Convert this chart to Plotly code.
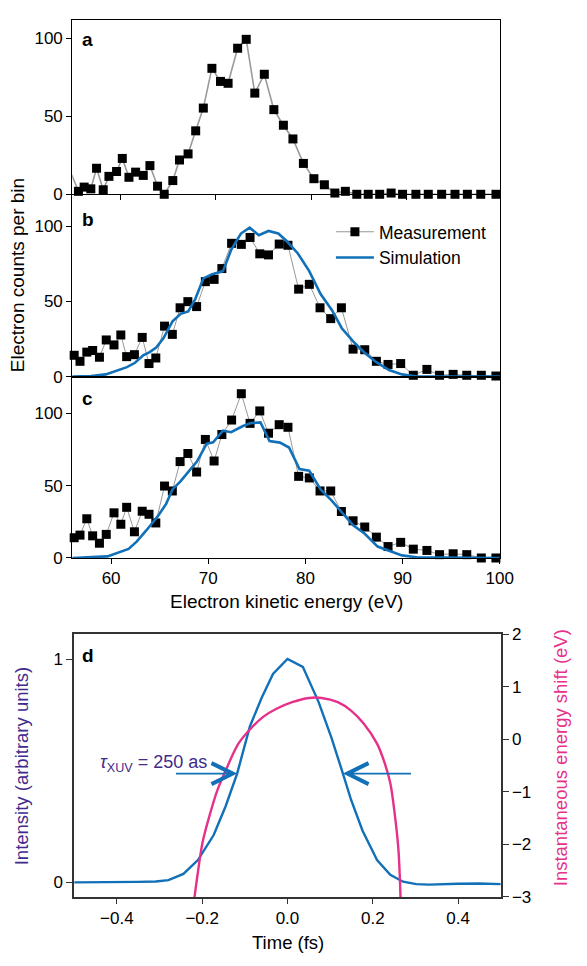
import plotly.graph_objects as go

W, H = 587, 966
FONT = "Liberation Sans, Arial, Helvetica, sans-serif"
BLUE = "#1170b8"
PINK = "#e5318a"
PURPLE = "#3f2b8c"

# ---------------- Panel a: measurement ----------------
a_energy = [54.9, 55.6, 56.2, 56.9, 57.5, 58.2, 58.8, 59.6, 60.2, 60.9, 61.6, 62.4, 63.1, 63.9,
            64.6, 65.5, 66.2, 67.1, 67.9, 68.7, 69.6, 70.5, 71.3, 72.3, 73.2, 74.1, 75.1,
            76.1, 77.1, 78.1, 79.2, 80.3, 81.4, 82.5, 83.6, 84.8, 86.0, 87.2, 88.4, 89.6,
            91.0, 92.3, 93.7, 95.1, 96.4, 97.8, 99.4]
a_counts = [12.5, 1.9, 4.6, 3.5, 16.7, 2.9, 11.5, 14.6, 23, 10.9, 14.2, 12.1, 18.4, 5.2,
            0, 8.8, 22, 25.9, 40.7, 55.3, 80.8, 72.4, 71.2, 93.7, 99.4, 64.9, 77,
            54.3, 44.3, 35.5, 19.8, 10, 6.1, 0.8, 1.9, 0, 0, 0, 0.8, 0,
            0, 0, 0, 0, 0, 0, 0]

# ---------------- Panel b ----------------
b_energy = [56.2, 56.8, 57.5, 58.1, 58.8, 59.5, 60.3, 61.0, 61.6, 62.4, 63.2, 63.9, 64.6,
            65.5, 66.3, 67.1, 67.9, 68.8, 69.7, 70.6, 71.4, 72.4, 73.4, 74.3, 75.3, 76.2,
            77.3, 78.2, 79.3, 80.4, 81.5, 82.6, 83.7, 84.9, 86.1, 87.3, 88.5, 89.8, 91.1,
            92.5, 93.8, 95.2, 96.6, 98.1, 99.6]
b_counts = [14.2, 10.2, 16.3, 17.4, 12.9, 24.4, 21.1, 27.7, 13.3, 14.6, 26.1, 8.7, 12.4,
            33.6, 28.1, 45.8, 49.9, 46.6, 63.2, 64.7, 71.9, 88.7, 88, 92.6, 81.7, 81,
            88.2, 87.4, 58.2, 61.4, 45.8, 38.6, 45.8, 18.3, 17.9, 10.2, 8.1, 8.7, 0.9,
            4.8, 0.9, 1.5, 0.9, 0.9, 0.4]
b_sim_energy = [56.0, 57.94, 59.45, 60.62, 61.63, 62.46, 63.3, 63.97, 64.64, 65.38, 66.32,
                67.16, 67.93, 68.66, 69.5, 70.34, 71.51, 72.35, 73.36, 74.26, 75.2, 76.2,
                77.2, 78.04, 79.2, 80.39, 81.56, 82.73, 83.74, 84.91, 86.08, 87.26, 88.6,
                89.94, 91.45, 99.6, 100.0]
b_sim_counts = [0, 0.4, 1.5, 4.1, 6.3, 9.2, 14.2, 16.3, 19.4, 25.5, 36.8,
                41.8, 43.4, 51.6, 65.4, 68, 70.2, 84.3, 95.2, 99.1, 94.1, 96.9,
                95.2, 90.4, 82.1, 70.2, 55, 44.2, 32.2, 23.5, 15.9, 9.8, 4.4,
                1.5, 0, 0, 0]

# ---------------- Panel c ----------------
c_energy = b_energy
c_counts = [14, 15.8, 27.1, 15.3, 10.2, 16.3, 31.2, 23.3, 35, 18.1, 32.3, 30.2, 24.2,
            49.7, 46.3, 66.6, 72.2, 59.4, 81.9, 67, 85.3, 95.3, 113.5, 93, 101.6, 86.2,
            92.1, 90.3, 56.4, 55.3, 46.3, 46.3, 32.1, 25.7, 21.4, 14.4, 7.9, 10.8, 6.1,
            5.2, 2.3, 2.9, 2.3, 0, 0]
c_sim_energy = [56.0, 59.62, 61.8, 62.63, 63.64, 64.81, 65.65, 66.32, 67.16, 67.99, 68.83,
                69.84, 70.5, 71.51, 72.35, 73.52, 74.36, 75.37, 76.3, 77.38, 78.31, 79.39,
                80.39, 81.56, 82.73, 83.74, 84.91, 86.08, 87.43, 88.6, 89.94, 91.45, 99.6, 100.0]
c_sim_counts = [0, 1.1, 6.3, 11.3, 19.2, 28.9, 37.2, 47.4, 53.1, 59.8, 66.6,
                79, 79.9, 88, 86.9, 91, 93.2, 93.7, 80.8, 79.7, 76.3, 61.4,
                60.3, 47.4, 39.5, 31.6, 22.6, 16.9, 7.9, 5, 1.8, 0.5, 0, 0]

# ---------------- Panel d ----------------
d_time = [-0.5, -0.45, -0.4, -0.35, -0.309, -0.279, -0.244, -0.210, -0.173, -0.145, -0.118,
          -0.088, -0.061, -0.034, 0.0, 0.036, 0.073, 0.103, 0.130, 0.149, 0.176, 0.210,
          0.241, 0.271, 0.302, 0.332, 0.4, 0.45, 0.5]
d_intensity = [0.0, 0.0, 0.001, 0.002, 0.004, 0.01, 0.038, 0.1, 0.212, 0.341, 0.487,
               0.699, 0.824, 0.933, 1.0, 0.965, 0.807, 0.648, 0.487, 0.37, 0.231, 0.1,
               0.034, 0.003, -0.008, -0.01, -0.006, -0.005, -0.008]
d_shift_time = [-0.218, -0.210, -0.199, -0.183, -0.164, -0.141, -0.115, -0.088, -0.057,
                -0.027, 0.011, 0.050, 0.080, 0.118, 0.149, 0.179, 0.210, 0.229, 0.241,
                0.252, 0.260, 0.265]
d_shift = [-3.01, -2.53, -1.96, -1.46, -0.96, -0.52, -0.08, 0.19, 0.43,
           0.58, 0.71, 0.79, 0.79, 0.71, 0.55, 0.30, -0.08, -0.48, -0.83,
           -1.46, -2.09, -3.01]

e_ticks = [60, 70, 80, 90, 100]
count_ticks = [0, 50, 100]
t_ticks = [-0.4, -0.2, 0.0, 0.2, 0.4]
shift_ticks = [-3, -2, -1, 0, 1, 2]

fig = go.Figure()

MK = dict(symbol="square", size=9, color="black")

# panel a
fig.add_trace(go.Scatter(x=a_energy, y=a_counts, mode="lines", xaxis="x", yaxis="y",
                         line=dict(color="#9a9a9a", width=1.6), showlegend=False, hoverinfo="skip"))
fig.add_trace(go.Scatter(x=a_energy[1:], y=a_counts[1:], mode="markers", xaxis="x", yaxis="y",
                         marker=MK, cliponaxis=False, showlegend=False))
# panel b
fig.add_trace(go.Scatter(x=b_energy, y=b_counts, mode="lines+markers", xaxis="x2", yaxis="y2",
                         line=dict(color="#8c8c8c", width=0.9), marker=MK, cliponaxis=False,
                         name="Measurement"))
fig.add_trace(go.Scatter(x=b_sim_energy, y=b_sim_counts, mode="lines", xaxis="x2", yaxis="y2",
                         line=dict(color=BLUE, width=2.6), name="Simulation"))
# panel c
fig.add_trace(go.Scatter(x=c_energy, y=c_counts, mode="lines+markers", xaxis="x3", yaxis="y3",
                         line=dict(color="#8c8c8c", width=0.9), marker=MK, cliponaxis=False,
                         showlegend=False))
fig.add_trace(go.Scatter(x=c_sim_energy, y=c_sim_counts, mode="lines", xaxis="x3", yaxis="y3",
                         line=dict(color=BLUE, width=2.6), showlegend=False))
# panel d
fig.add_trace(go.Scatter(x=d_time, y=d_intensity, mode="lines", xaxis="x4", yaxis="y4",
                         line=dict(color=BLUE, width=2.4), showlegend=False))
fig.add_trace(go.Scatter(x=d_shift_time, y=d_shift, mode="lines", xaxis="x4", yaxis="y5",
                         line=dict(color=PINK, width=2.4, shape="spline", smoothing=1.0),
                         showlegend=False))

def px_x(p):
    return p / W

def px_y(p):
    return 1 - p / H

xdom = [px_x(74), px_x(512)]
xdom_d = [px_x(76), px_x(513)]
TICKFONT = dict(family=FONT, size=17, color="black")

common_x = dict(showline=True, linecolor="black", linewidth=1, mirror=True, showgrid=False,
                zeroline=False, ticks="outside", ticklen=5, tickcolor="black", tickfont=TICKFONT)
common_y = dict(showline=True, linecolor="black", linewidth=1, mirror=True, showgrid=False,
                zeroline=False, ticks="outside", ticklen=5, tickcolor="black", tickfont=TICKFONT,
                tickvals=count_ticks)

fig.update_layout(
    width=W, height=H, margin=dict(l=0, r=0, t=0, b=0),
    paper_bgcolor="white", plot_bgcolor="white",
    font=dict(family=FONT, size=17, color="black"),
    xaxis=dict(common_x, domain=xdom, range=[54.95, 99.8], tickvals=e_ticks[:4],
               showticklabels=False, anchor="y"),
    yaxis=dict(common_y, domain=[px_y(189), px_y(11.7)], range=[0, 111.5], anchor="x"),
    xaxis2=dict(common_x, domain=xdom, range=[56, 100], ticks="", showticklabels=False,
                anchor="y2"),
    yaxis2=dict(common_y, domain=[px_y(375), px_y(189.5)], range=[0, 121], anchor="x2"),
    xaxis3=dict(common_x, domain=xdom, range=[56, 100], tickvals=e_ticks, anchor="y3"),
    yaxis3=dict(common_y, domain=[px_y(560), px_y(375)], range=[0, 125.3], anchor="x3"),
    xaxis4=dict(showline=True, linecolor="#333333", linewidth=1.5, mirror=True, showgrid=False,
                zeroline=False, ticks="outside", ticklen=5, tickcolor="#333333",
                tickfont=TICKFONT, domain=xdom_d, range=[-0.5, 0.5], tickvals=t_ticks,
                tickformat=".1f", anchor="y4"),
    yaxis4=dict(showline=True, linecolor="#333333", linewidth=1.5, mirror=False, showgrid=False,
                zeroline=False, ticks="outside", ticklen=6, tickcolor="#333333",
                tickfont=TICKFONT, domain=[px_y(905.7), px_y(638)], range=[-0.065, 1.11],
                tickvals=[0, 1], anchor="x4"),
    yaxis5=dict(showline=True, linecolor="#333333", linewidth=1.5, showgrid=False,
                zeroline=False, ticks="outside", ticklen=6, tickcolor="#333333",
                tickfont=TICKFONT, overlaying="y4", side="right", anchor="x4",
                range=[-3, 2], tickvals=shift_ticks),
    legend=dict(x=px_x(339), y=px_y(209), xanchor="left", yanchor="top",
                bgcolor="rgba(0,0,0,0)", borderwidth=0,
                font=dict(family=FONT, size=17.5, color="black"),
                itemwidth=38, tracegroupgap=0),
)

ann = []
for letter, yc in [("a", 31), ("b", 215), ("c", 397), ("d", 659)]:
    ann.append(dict(text=f"<b>{letter}</b>", xref="paper", yref="paper", x=px_x(82),
                    y=px_y(yc), xanchor="left", yanchor="middle", showarrow=False,
                    font=dict(family=FONT, size=19, color="black")))
ann.append(dict(text="Electron counts per bin", xref="paper", yref="paper", x=px_x(18),
                y=px_y(272), textangle=-90, showarrow=False, xanchor="center", yanchor="middle",
                font=dict(family=FONT, size=19, color="black")))
ann.append(dict(text="Electron kinetic energy (eV)", xref="paper", yref="paper", x=px_x(293),
                y=px_y(604), showarrow=False, xanchor="center", yanchor="middle",
                font=dict(family=FONT, size=19, color="black")))
ann.append(dict(text="Time (fs)", xref="paper", yref="paper", x=px_x(295),
                y=px_y(952), showarrow=False, xanchor="center", yanchor="middle",
                font=dict(family=FONT, size=18.5, color="black")))
ann.append(dict(text="Intensity (arbitrary units)", xref="paper", yref="paper", x=px_x(22),
                y=px_y(772), textangle=-90, showarrow=False, xanchor="center", yanchor="middle",
                font=dict(family=FONT, size=18.5, color=PURPLE)))
ann.append(dict(text="Instantaneous energy shift (eV)", xref="paper", yref="paper", x=px_x(575),
                y=px_y(764), textangle=-90, showarrow=False, xanchor="center", yanchor="middle",
                font=dict(family=FONT, size=18.5, color=PINK)))
ann.append(dict(text="<i>τ</i><sub>XUV</sub> = 250 as", xref="paper", yref="paper", x=px_x(100),
                y=px_y(770), showarrow=False, xanchor="left", yanchor="middle",
                font=dict(family=FONT, size=18, color=PURPLE)))
# FWHM arrows
ann.append(dict(text="", xref="x4", yref="y4", axref="x4", ayref="y4",
                x=-0.118, y=0.487, ax=-0.265, ay=0.487, showarrow=True, arrowhead=5,
                arrowwidth=1.8, arrowsize=2.3, arrowcolor=BLUE, standoff=0))
ann.append(dict(text="", xref="x4", yref="y4", axref="x4", ayref="y4",
                x=0.130, y=0.487, ax=0.293, ay=0.487, showarrow=True, arrowhead=5,
                arrowwidth=1.8, arrowsize=2.3, arrowcolor=BLUE, standoff=0))
fig.update_layout(annotations=ann)

fig.write_html("out.html")
